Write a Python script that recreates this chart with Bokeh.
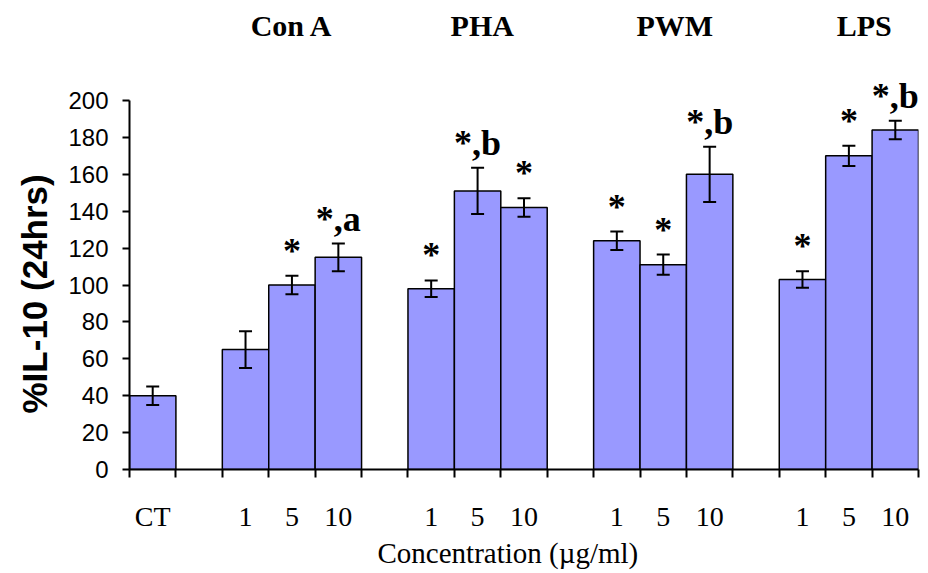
from bokeh.plotting import figure
from bokeh.models import (Range1d, FixedTicker, ColumnDataSource, Whisker, TeeHead,
                          LabelSet, LinearAxis, Title)
from bokeh.core.properties import value
from bokeh.embed import file_html
from bokeh.resources import INLINE

# ---------------- data ----------------
control_label = "CT"
control_value = 40
control_error = 5

groups = ["Con A", "PHA", "PWM", "LPS"]
doses = ["1", "5", "10"]

conA_values = [65, 100, 115]
pha_values = [98, 151, 142]
pwm_values = [124, 111, 160]
lps_values = [103, 170, 184]

conA_errors = [10, 5, 7.5]
pha_errors = [4.5, 12.5, 5]
pwm_errors = [5, 5.5, 15]
lps_errors = [4.5, 5.5, 5]

conA_marks = ["", "*", "*,a"]
pha_marks = ["*", "*,b", "*"]
pwm_marks = ["*", "*", "*,b"]
lps_marks = ["*", "*", "*,b"]

y_ticks = [0, 20, 40, 60, 80, 100, 120, 140, 160, 180, 200]
y_title = "%IL-10 (24hrs)"
x_title = "Concentration (µg/ml)"

# ---------------- layout of category slots ----------------
group_values = [conA_values, pha_values, pwm_values, lps_values]
group_errors = [conA_errors, pha_errors, pwm_errors, lps_errors]
group_marks = [conA_marks, pha_marks, pwm_marks, lps_marks]
group_label_shift = [0.0, 0.1, 0.25, 0.33]   # hand placed titles in original

xs, tops, errs, marks, labels = [], [], [], [], []
xs.append(0.5); tops.append(control_value); errs.append(control_error)
marks.append(""); labels.append(control_label)
group_label_x = []
for g in range(len(groups)):
    start = 2 + 4 * g
    group_label_x.append(start + 1.5 + group_label_shift[g])
    for k in range(len(doses)):
        xs.append(start + k + 0.5)
        tops.append(group_values[g][k])
        errs.append(group_errors[g][k])
        marks.append(group_marks[g][k])
        labels.append(doses[k])
n_slots = 2 + 4 * len(groups) - 1

upper = [t + e for t, e in zip(tops, errs)]
lower = [t - e for t, e in zip(tops, errs)]
mark_y = [u + 7 for u in upper]

src = ColumnDataSource(dict(x=xs, top=tops, upper=upper, lower=lower,
                            mark=marks, mark_y=mark_y))

# ---------------- figure ----------------
W, H = 928, 573
border_left, border_right, border_top, border_bottom = 129, 10, 60, 104
y_max = 200
frame_h = H - border_top - border_bottom
y_end = y_max * frame_h / 369.0     # 0..200 spans 369 px as in the original

p = figure(width=W, height=H, output_backend="svg", toolbar_location=None,
           x_range=Range1d(0, n_slots), y_range=Range1d(0, y_end),
           min_border_left=border_left, min_border_right=border_right,
           min_border_top=border_top, min_border_bottom=border_bottom,
           background_fill_color="white", border_fill_color="white")
p.outline_line_color = None
p.grid.grid_line_color = None

p.vbar(x="x", top="top", bottom=0, width=1, source=src,
       fill_color="#9999FF", line_color="black", line_width=1.5)

wh = Whisker(base="x", upper="upper", lower="lower", source=src,
             line_color="black", line_width=2,
             upper_head=TeeHead(size=13, line_color="black", line_width=2),
             lower_head=TeeHead(size=13, line_color="black", line_width=2))
wh.level = "annotation"
p.add_layout(wh)

ann = LabelSet(x="x", y="mark_y", text="mark", source=src,
               text_align="center", text_baseline="alphabetic",
               text_font=value("Liberation Serif"), text_font_style="bold",
               text_font_size="36px", text_color="black")
p.add_layout(ann)

# y axis
ya = p.yaxis[0]
ya.ticker = FixedTicker(ticks=y_ticks)
ya.bounds = (0, y_max)
ya.major_label_text_font = "Liberation Sans"
ya.major_label_text_font_size = "24px"
ya.major_label_text_color = "black"
ya.major_label_standoff = 14
ya.major_tick_out = 7
ya.major_tick_in = 0
ya.major_tick_line_width = 2
ya.minor_tick_line_color = None
ya.axis_line_width = 2

# y title
yt = Title(text=y_title, align="left", offset=56, standoff=22,
           vertical_align="middle",
           text_font="Liberation Sans", text_font_style="bold",
           text_font_size="35px", text_color="black")
p.add_layout(yt, "left")

# x axis (labels at bar centres, ticks at slot boundaries)
xa = p.xaxis[0]
xa.ticker = FixedTicker(ticks=xs, minor_ticks=list(range(0, n_slots + 1)))
xa.major_label_overrides = {x: l for x, l in zip(xs, labels)}
xa.major_tick_out = 0
xa.major_tick_in = 0
xa.minor_tick_out = 8
xa.minor_tick_in = 0
xa.minor_tick_line_width = 2
xa.minor_tick_line_color = "black"
xa.axis_line_width = 2
xa.major_label_text_font = "Liberation Serif"
xa.major_label_text_font_size = "28px"
xa.major_label_text_color = "black"
xa.major_label_standoff = 23

# x title
xt = Title(text=x_title, align="left", offset=248, standoff=0,
           vertical_align="bottom",
           text_font="Liberation Serif", text_font_style="normal",
           text_font_size="29px", text_color="black")
p.add_layout(xt, "below")

# group names on top
ta = LinearAxis(ticker=FixedTicker(ticks=group_label_x, minor_ticks=[]))
ta.major_label_overrides = {c: g for c, g in zip(group_label_x, groups)}
ta.axis_line_color = None
ta.major_tick_line_color = None
ta.minor_tick_line_color = None
ta.major_tick_out = 0
ta.major_tick_in = 0
ta.major_label_text_font = "Liberation Serif"
ta.major_label_text_font_style = "bold"
ta.major_label_text_font_size = "30px"
ta.major_label_text_color = "black"
ta.major_label_standoff = 19
p.add_layout(ta, "above")

open("out.html", "w", encoding="utf-8").write(file_html(p, INLINE))
